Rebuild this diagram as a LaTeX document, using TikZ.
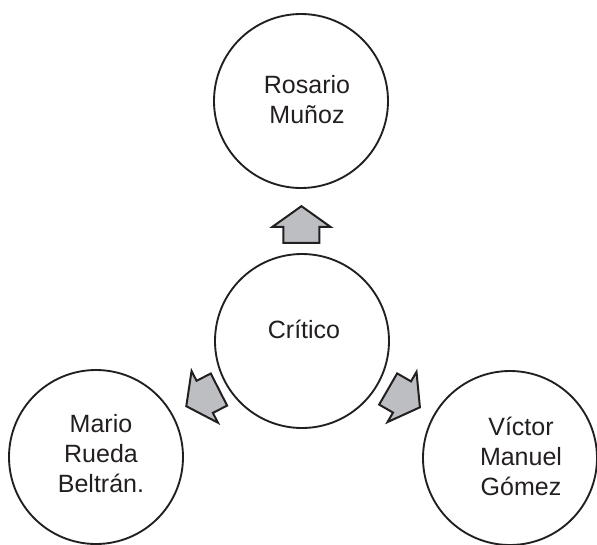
\documentclass[tikz,border=0pt]{standalone}
\usepackage{fontspec}
\setmainfont{Liberation Sans}
\usetikzlibrary{shapes.arrows,calc}
\definecolor{ink}{HTML}{231F20}
\definecolor{agray}{HTML}{BDBEC2}
\begin{document}
\begin{tikzpicture}[x=0.75pt,y=-0.75pt,
  person/.style={circle,draw=ink,line width=1.4pt,minimum size=130.5pt,inner sep=0pt},
  txt/.style={font=\fontsize{18.75}{22.5}\selectfont,text=ink,align=center,inner sep=0pt},
  blockarrow/.style={single arrow,draw=ink,fill=agray,line width=1.5pt,
    minimum height=27.5pt,single arrow head extend=8.25pt,
    inner xsep=0pt,inner ysep=12.75pt,single arrow tip angle=109,anchor=tip}
]
\useasboundingbox (0,0) rectangle (597,544);
\node[person] (crit) at (302,341) {};
\node[person] (ros) at (301,101) {};
\node[person] (mar) at (96,457) {};
\node[person] (vic) at (510,458) {};
\node[txt] (critt) at (304,329) {Crítico};
\node[txt] (rost) at (307,100) {Rosario\\Muñoz};
\node[txt] (mart) at (101,454) {Mario\\Rueda\\Beltrán.};
\node[txt] (vict) at (521,456) {Víctor\\Manuel\\Gómez};
\node[blockarrow,rotate=90] (a1) at ($(crit)!0.567!(ros)$) {};
\node[blockarrow,rotate=207] (a2) at ($(crit)!0.567!(mar)$) {};
\node[blockarrow,rotate=-30] (a3) at ($(crit)!0.572!(vic)$) {};
\end{tikzpicture}
\end{document}
